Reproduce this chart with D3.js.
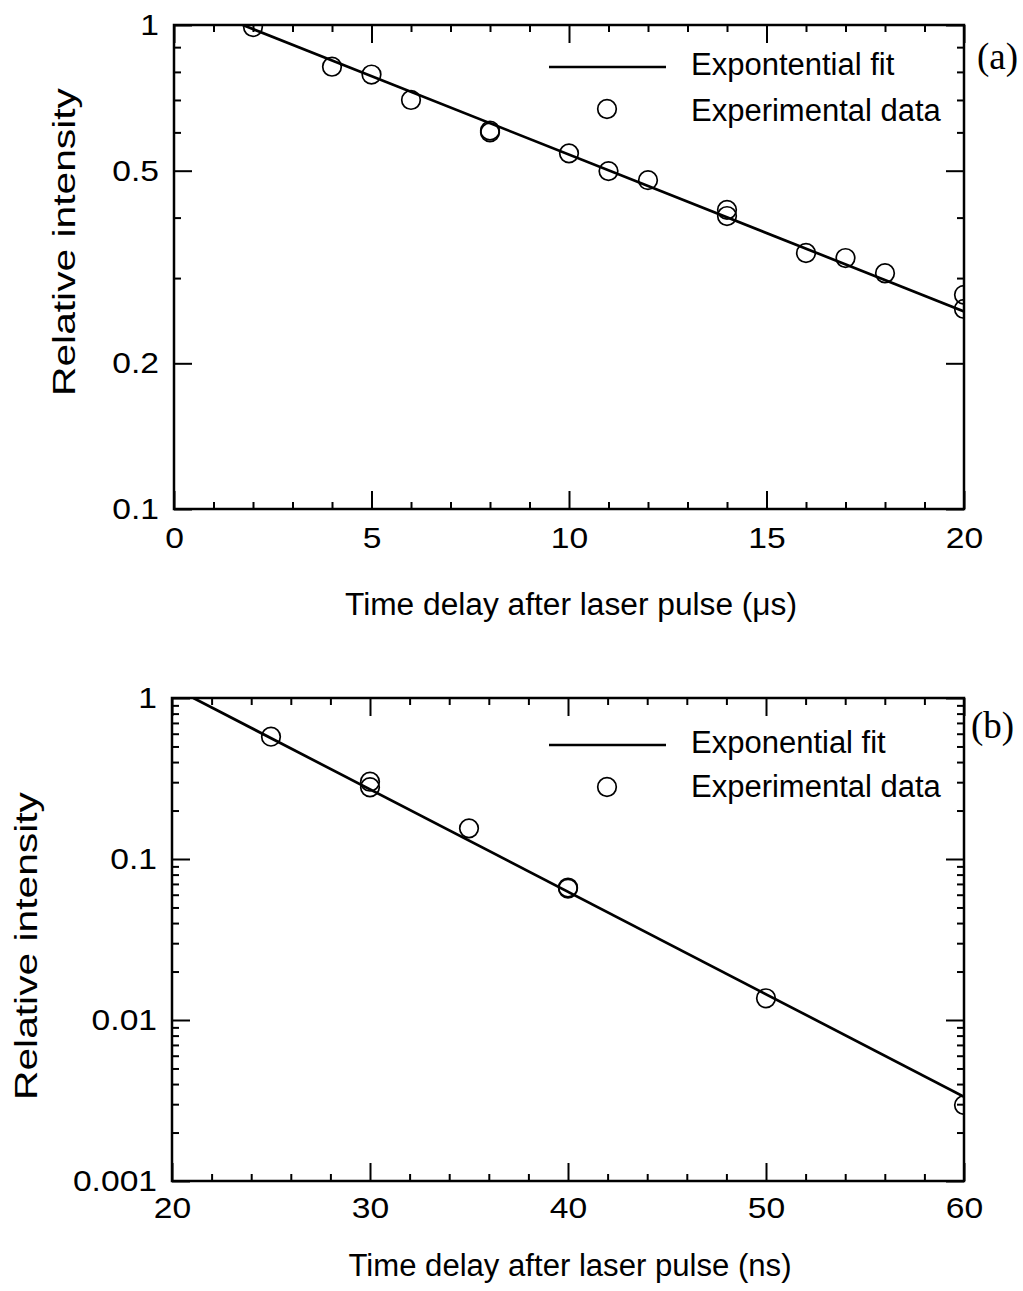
<!DOCTYPE html>
<html><head><meta charset="utf-8">
<script src="https://cdn.jsdelivr.net/npm/d3@7"></script>
<style>
body{margin:0;background:#fff;}
text{font-family:"Liberation Sans",Arial,sans-serif;fill:#000;}
</style></head>
<body>
<svg id="c" width="1023" height="1291"></svg>
<script>
// ---- Data (a) ----
const aX = [2, 4, 5, 6, 8, 8, 10, 11, 12, 14, 14, 16, 17, 18, 20, 20];
const aY = [0.99, 0.82, 0.79, 0.70, 0.605, 0.600, 0.543, 0.499, 0.478, 0.415, 0.403, 0.338, 0.330, 0.307, 0.277, 0.259];
const aFitX = [1.74, 20];
const aFitY = [1.0, 0.256];
const aXMajor = [0, 5, 10, 15, 20];
const aXMinor = [1,2,3,4,6,7,8,9,11,12,13,14,16,17,18,19];
const aYMajor = [1, 0.5, 0.2, 0.1];
const aYMinor = [0.3, 0.4, 0.6, 0.7, 0.8, 0.9];
const aYLabels = ["1", "0.5", "0.2", "0.1"];
const aXTitle = "Time delay after laser pulse (\u03BCs)";
const aLegend = ["Expontential fit", "Experimental data"];

// ---- Data (b) ----
const bX = [25, 30, 30, 35, 40, 40, 50, 60];
const bY = [0.575, 0.302, 0.279, 0.155, 0.0665, 0.0655, 0.01364, 0.00296];
const bFitX = [21.08, 60];
const bFitY = [1.0, 0.00334];
const bXMajor = [20, 30, 40, 50, 60];
const bXMinor = [22,24,26,28,32,34,36,38,42,44,46,48,52,54,56,58];
const bYMajor = [1, 0.1, 0.01, 0.001];
const bYMinor = [0.9,0.8,0.7,0.6,0.5,0.4,0.3,0.2,0.09,0.08,0.07,0.06,0.05,0.04,0.03,0.02,0.009,0.008,0.007,0.006,0.005,0.004,0.003,0.002];
const bYLabels = ["1", "0.1", "0.01", "0.001"];
const bXTitle = "Time delay after laser pulse (ns)";
const bLegend = ["Exponential fit", "Experimental data"];

const yTitle = "Relative intensity";

const svg = d3.select("#c");

function widen(sel, f){
  sel.each(function(){
    const L = this.getComputedTextLength();
    d3.select(this).attr("textLength", L*f).attr("lengthAdjust","spacingAndGlyphs");
  });
}

function panel(o){
  const g = svg.append("g");
  const x = d3.scaleLinear().domain(o.xDom).range([o.left, o.right]);
  const y = d3.scaleLog().domain(o.yDom).range([o.bottom, o.top]);
  const id = "clip" + o.name;
  svg.append("clipPath").attr("id", id).append("rect")
    .attr("x", o.left).attr("y", o.top).attr("width", o.right-o.left).attr("height", o.bottom-o.top);

  const fs = "30px";
  // x axes
  const xb = g.append("g").attr("transform",`translate(0,${o.bottom})`)
    .call(d3.axisBottom(x).tickValues(o.xMajor).tickSize(-o.majLen).tickSizeOuter(0).tickPadding(o.xPad).tickFormat(d3.format("d")));
  xb.selectAll("text").style("font-size", fs);
  widen(xb.selectAll("text"), 1.12);
  g.append("g").attr("transform",`translate(0,${o.bottom})`)
    .call(d3.axisBottom(x).tickValues(o.xMinor).tickSize(-o.minLen).tickSizeOuter(0).tickFormat(""));
  g.append("g").attr("transform",`translate(0,${o.top})`)
    .call(d3.axisTop(x).tickValues(o.xMajor).tickSize(-o.majLen).tickSizeOuter(0).tickFormat(""));
  g.append("g").attr("transform",`translate(0,${o.top})`)
    .call(d3.axisTop(x).tickValues(o.xMinor).tickSize(-o.minLen).tickSizeOuter(0).tickFormat(""));
  // y axes
  const yl = g.append("g").attr("transform",`translate(${o.left},0)`)
    .call(d3.axisLeft(y).tickValues(o.yMajor).tickSize(-o.majLen).tickSizeOuter(0).tickPadding(15)
      .tickFormat((d,i)=>o.yLabels[i]));
  yl.selectAll("text").style("font-size", fs);
  widen(yl.selectAll("text"), 1.12);
  g.append("g").attr("transform",`translate(${o.left},0)`)
    .call(d3.axisLeft(y).tickValues(o.yMinor).tickSize(-o.minLen).tickSizeOuter(0).tickFormat(""));
  g.append("g").attr("transform",`translate(${o.right},0)`)
    .call(d3.axisRight(y).tickValues(o.yMajor).tickSize(-o.majLen).tickSizeOuter(0).tickFormat(""));
  g.append("g").attr("transform",`translate(${o.right},0)`)
    .call(d3.axisRight(y).tickValues(o.yMinor).tickSize(-o.minLen).tickSizeOuter(0).tickFormat(""));
  g.selectAll(".domain").remove();
  g.selectAll(".tick line").attr("stroke","#000").attr("stroke-width",2);

  // fit line
  const pts = o.fitX.map((v,i)=>[v,o.fitY[i]]);
  g.append("path").attr("clip-path",`url(#${id})`)
    .attr("d", d3.line().x(d=>x(d[0])).y(d=>y(d[1]))(pts))
    .attr("fill","none").attr("stroke","#000").attr("stroke-width",2.7);
  // data
  g.append("g").attr("clip-path",`url(#${id})`).selectAll("circle")
    .data(o.dx.map((v,i)=>[v,o.dy[i]])).join("circle")
    .attr("cx",d=>x(d[0])).attr("cy",d=>y(d[1])).attr("r",9.3)
    .attr("fill","none").attr("stroke","#000").attr("stroke-width",1.7);

  // frame
  g.append("rect").attr("x",o.left).attr("y",o.top).attr("width",o.right-o.left).attr("height",o.bottom-o.top)
    .attr("fill","none").attr("stroke","#000").attr("stroke-width",2.5);

  // titles
  g.append("text").attr("x",(o.left+o.right)/2+2).attr("y",o.xTitleY).attr("text-anchor","middle")
    .style("font-size","31px").attr("textLength",o.xTitleLen).attr("lengthAdjust","spacingAndGlyphs").text(o.xTitle);
  g.append("text").attr("transform",`translate(${o.yTitleX},${o.yTitleC}) rotate(-90)`)
    .attr("text-anchor","middle").style("font-size","31px")
    .attr("textLength",308).attr("lengthAdjust","spacingAndGlyphs").text(yTitle);

  // legend
  g.append("line").attr("x1",549).attr("x2",666).attr("y1",o.legY1-8).attr("y2",o.legY1-8)
    .attr("stroke","#000").attr("stroke-width",2.7);
  g.append("text").attr("x",691).attr("y",o.legY1).style("font-size","31px").text(o.legend[0]);
  g.append("circle").attr("cx",607).attr("cy",o.legCY).attr("r",9.3)
    .attr("fill","none").attr("stroke","#000").attr("stroke-width",1.7);
  g.append("text").attr("x",691).attr("y",o.legY2).style("font-size","31px").text(o.legend[1]);

  // panel label
  g.append("text").attr("x",o.labX).attr("y",o.labY)
    .style("font-family","'Liberation Serif','Times New Roman',serif").style("font-size","37px").text(o.label);
}

panel({name:"a", xDom:[0,20], yDom:[0.1,1], left:174, right:964, top:25, bottom:509,
  majLen:18, minLen:7, xPad:18, xMajor:aXMajor, xMinor:aXMinor, yMajor:aYMajor, yMinor:aYMinor, yLabels:aYLabels,
  fitX:aFitX, fitY:aFitY, dx:aX, dy:aY, xTitle:aXTitle, xTitleY:615, xTitleLen:452, yTitleX:75, yTitleC:242,
  legend:aLegend, legY1:75, legY2:121, legCY:109, label:"(a)", labX:977, labY:69});

panel({name:"b", xDom:[20,60], yDom:[0.001,1], left:172, right:964, top:698, bottom:1181,
  majLen:18, minLen:7, xPad:16, xMajor:bXMajor, xMinor:bXMinor, yMajor:bYMajor, yMinor:bYMinor, yLabels:bYLabels,
  fitX:bFitX, fitY:bFitY, dx:bX, dy:bY, xTitle:bXTitle, xTitleY:1276, xTitleLen:443, yTitleX:37, yTitleC:946,
  legend:bLegend, legY1:753, legY2:797, legCY:787, label:"(b)", labX:971, labY:738});
</script>
</body></html>
